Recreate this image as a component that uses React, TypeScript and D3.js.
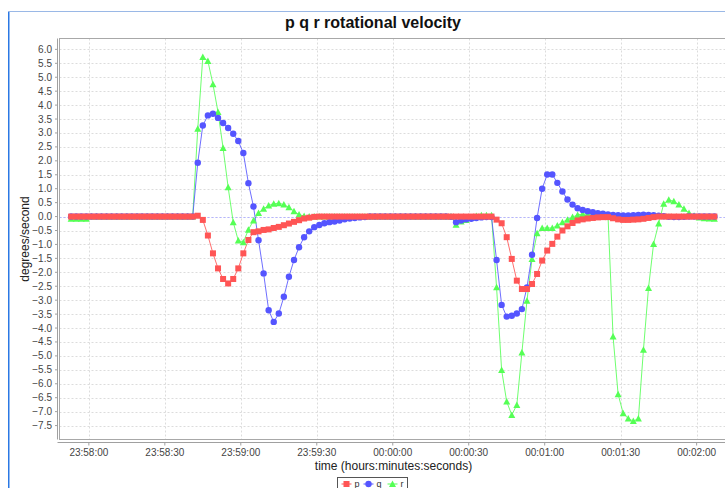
import React from "react";
import * as d3 from "d3";

// samples every 2 s, first one 7 s before 23:58:00
const sampleStep = 2;
const firstSample = -7;

const pValues = [
  0, 0, 0, 0, 0, 0, 0, 0, 0, 0,
  0, 0, 0, 0, 0, 0, 0, 0, 0, 0,
  0, 0, 0, 0, 0,
  0.03, -0.12, -0.68, -1.32, -1.86, -2.24, -2.4, -2.24, -1.86, -1.32,
  -0.84, -0.56, -0.53, -0.48, -0.46, -0.41, -0.37, -0.31, -0.25, -0.19,
  -0.13, -0.07, -0.04, -0.01,
  0, 0, 0, 0, 0, 0, 0, 0, 0, 0,
  0, 0, 0, 0, 0, 0, 0, 0, 0, 0,
  0, 0, 0, 0, 0, 0, 0, 0, 0, 0,
  0, 0, 0, 0, 0,
  -0.11, -0.24, -0.74, -1.52, -2.3, -2.6, -2.6, -2.42, -2.06, -1.58,
  -1.22, -0.98, -0.72, -0.5, -0.35, -0.23, -0.14, -0.1, -0.07, -0.05,
  -0.03, -0.02, -0.02, -0.06, -0.1, -0.12, -0.12, -0.11, -0.1, -0.08,
  -0.05, -0.02,
  0, 0, 0, 0, 0, 0, 0, 0, 0, 0,
  0, 0,
];

const qValues = [
  0, 0, 0, 0, 0, 0, 0, 0, 0, 0,
  0, 0, 0, 0, 0, 0, 0, 0, 0, 0,
  0, 0, 0, 0, 0,
  1.93, 3.27, 3.63, 3.69, 3.54, 3.36, 3.18, 2.97, 2.71, 2.28,
  1.2, 0.36, -0.85, -2.04, -3.36, -3.78, -3.48, -2.88, -2.16, -1.56,
  -1.1, -0.74, -0.53, -0.38, -0.3, -0.24, -0.2, -0.18, -0.14, -0.1,
  -0.07, -0.05, -0.03, -0.02,
  0, 0, 0, 0, 0, 0, 0, 0, 0, 0,
  0, 0, 0, 0, 0, 0,
  -0.01, -0.2, -0.14, -0.1, -0.08, -0.05, -0.03, -0.02, -0.02,
  -1.56, -3.17, -3.59, -3.56, -3.48, -3.32, -2.54, -1.37, -0.05, 1.0,
  1.51, 1.51, 1.21, 0.9, 0.61, 0.43, 0.3, 0.24, 0.19, 0.16,
  0.12, 0.1, 0.08, 0.06, 0.05, 0.04, 0.04, 0.05, 0.06, 0.07,
  0.06, 0.05, 0.03, 0.01, -0.01, -0.02, -0.02, -0.01, 0,
  0, 0, 0, 0, 0,
];

const rValues = [
  -0.08, -0.08, -0.08, -0.08, 0, 0, 0, 0, 0, 0,
  0, 0, 0, 0, 0, 0, 0, 0, 0, 0,
  0, 0, 0, 0, 0,
  3.15, 5.73, 5.58, 4.75, 3.75, 2.46, 1.05, -0.2, -0.86, -0.92,
  -0.47, -0.14, 0.13, 0.28, 0.4, 0.46, 0.48, 0.43, 0.33, 0.19,
  0.07, 0.02,
  0, 0, 0, 0, 0, 0, 0, 0, 0, 0,
  0, 0, 0, 0, 0, 0, 0, 0, 0, 0,
  0, 0, 0, 0, 0, 0, 0, 0,
  0, -0.29, -0.18, -0.12, -0.05, 0.02, 0.05, 0.05, 0.05,
  -2.54, -5.51, -6.64, -7.12, -6.76, -4.88, -3.02, -1.52, -0.6, -0.41,
  -0.41, -0.41, -0.32, -0.2, -0.11, -0.02, 0.06, 0.09, 0.1, 0.1,
  0.08, 0.06, 0.04,
  -4.3, -6.38, -7.06, -7.25, -7.34, -7.25, -4.78, -2.56, -0.98, -0.25,
  0.46, 0.6, 0.55, 0.43, 0.28, 0.13, 0.03, -0.03, -0.06, -0.07,
  -0.08,
];

const xTickSeconds = [0, 30, 60, 90, 120, 150, 180, 210, 240];
const xTickLabels = [
  "23:58:00", "23:58:30", "23:59:00", "23:59:30", "00:00:00",
  "00:00:30", "00:01:00", "00:01:30", "00:02:00",
];
const yTickValues = [
  -7.5, -7, -6.5, -6, -5.5, -5, -4.5, -4, -3.5, -3, -2.5, -2, -1.5, -1,
  -0.5, 0, 0.5, 1, 1.5, 2, 2.5, 3, 3.5, 4, 4.5, 5, 5.5, 6,
];

const seriesNames = ["p", "q", "r"];
const seriesColors = ["#ff5555", "#5555ff", "#55ff55"];
const seriesShapes = ["square", "circle", "triangle"];
const seriesValues = [pValues, qValues, rValues];

const W = 725, H = 488;
const plot = { left: 59.5, right: 726, top: 38.5, bottom: 439.5 };
const font = "'Liberation Sans', Arial, sans-serif";

const x = d3.scaleLinear().domain([-11.6, 251.6]).range([plot.left, plot.right]);
const y = d3.scaleLinear().domain([-8.0, 6.39]).range([plot.bottom, plot.top]);

const Marker = ({ shape, cx, cy, color }) => {
  if (shape === "square") return <rect x={cx - 3} y={cy - 3} width={6} height={6} fill={color} />;
  if (shape === "circle") return <circle cx={cx} cy={cy} r={3.2} fill={color} />;
  return <path d={`M${cx},${cy - 3.5}L${cx + 3.5},${cy + 3}L${cx - 3.5},${cy + 3}Z`} fill={color} />;
};

export default function App() {
  const series = seriesValues.map((vals) =>
    vals.map((v, i) => [firstSample + i * sampleStep, v] as [number, number])
  );
  const line = d3.line<[number, number]>().x((d) => x(d[0])).y((d) => y(d[1]));
  // JFreeChart draws the first series on top
  const order = [2, 1, 0];

  return (
    <svg width={W} height={H} style={{ position: "absolute", left: 0, top: 0, background: "#fff" }}>
      <line x1={8.75} x2={8.75} y1={11} y2={H} stroke="#2b78e4" strokeWidth={1.5} />
      <line x1={8} x2={W} y1={11.5} y2={11.5} stroke="#9ab8e6" />

      <text x={373} y={28} textAnchor="middle" fontFamily={font} fontWeight="bold" fontSize={16} fill="#111">
        p q r rotational velocity
      </text>

      <clipPath id="plotClip">
        <rect x={plot.left} y={plot.top} width={plot.right - plot.left} height={plot.bottom - plot.top} />
      </clipPath>

      {yTickValues.map((v) => (
        <line key={"gy" + v} x1={plot.left} x2={plot.right} y1={Math.round(y(v)) + 0.5} y2={Math.round(y(v)) + 0.5}
          stroke="#dcdcdc" strokeDasharray="2,2" />
      ))}
      {xTickSeconds.map((t) => (
        <line key={"gx" + t} x1={Math.round(x(t)) + 0.5} x2={Math.round(x(t)) + 0.5} y1={plot.top} y2={plot.bottom}
          stroke="#dcdcdc" strokeDasharray="2,2" />
      ))}
      <line x1={plot.left} x2={plot.right} y1={Math.round(y(0)) + 0.5} y2={Math.round(y(0)) + 0.5}
        stroke="#b4b4ff" strokeDasharray="2,2" />

      <rect x={plot.left} y={plot.top} width={plot.right - plot.left} height={plot.bottom - plot.top}
        fill="none" stroke="#a8a8a8" />
      <line x1={57.5} x2={57.5} y1={plot.top} y2={plot.bottom} stroke="#a0a0a0" />
      <line x1={57.5} x2={plot.right} y1={442.5} y2={442.5} stroke="#a0a0a0" />

      <g clipPath="url(#plotClip)">
        {order.map((s) => (
          <path key={"l" + s} d={line(series[s]) || ""} fill="none" stroke={seriesColors[s]} strokeWidth={1} opacity={0.85} />
        ))}
        {order.map((s) =>
          series[s].map((d, i) => (
            <Marker key={s + "-" + i} shape={seriesShapes[s]} cx={x(d[0])} cy={y(d[1])} color={seriesColors[s]} />
          ))
        )}
      </g>

      {yTickValues.map((v) => (
        <g key={"ty" + v}>
          <line x1={55} x2={57.5} y1={y(v)} y2={y(v)} stroke="#a0a0a0" />
          <text x={52} y={y(v)} dy="0.35em" textAnchor="end" fontFamily={font} fontSize={10} fill="#444">
            {d3.format(".1f")(v)}
          </text>
        </g>
      ))}
      {xTickSeconds.map((t, i) => (
        <g key={"tx" + t}>
          <line x1={x(t)} x2={x(t)} y1={442.5} y2={445.5} stroke="#a0a0a0" />
          <text x={x(t)} y={455.5} textAnchor="middle" fontFamily={font} fontSize={10} fill="#444">
            {xTickLabels[i]}
          </text>
        </g>
      ))}

      <text x={393.5} y={469.5} textAnchor="middle" fontFamily={font} fontSize={12} fill="#222">
        time (hours:minutes:seconds)
      </text>
      <text transform="translate(29,239) rotate(-90)" textAnchor="middle" fontFamily={font} fontSize={12} fill="#222">
        degrees/second
      </text>

      <rect x={337.5} y={477.5} width={70} height={20} fill="#fff" stroke="#555" />
      {seriesNames.map((n, s) => {
        const mx = [346.5, 368.5, 392.5][s];
        return (
          <g key={"lg" + n}>
            <line x1={mx - 5} x2={mx + 5} y1={484} y2={484} stroke={seriesColors[s]} />
            <Marker shape={seriesShapes[s]} cx={mx} cy={484} color={seriesColors[s]} />
            <text x={mx + 8} y={487} fontFamily={font} fontSize={9} fill="#333">{n}</text>
          </g>
        );
      })}
    </svg>
  );
}
